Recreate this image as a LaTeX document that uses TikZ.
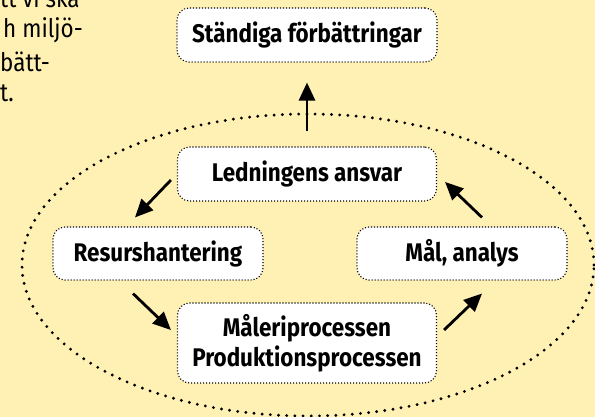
\documentclass[tikz,border=0pt]{standalone}
\usepackage{fontspec}
\setmainfont{Fira Sans}[FakeStretch=0.88]
\usepackage{tikz}
\usetikzlibrary{calc,arrows.meta}

\definecolor{cream}{RGB}{255,240,180}

\begin{document}
\begin{tikzpicture}[x=1pt,y=-1pt,
	box/.style={draw, dash pattern=on 1.1pt off 1.9pt, line width=1.1pt, rounded corners=12pt, fill=white, inner sep=0pt, align=center, font=\bfseries\fontsize{25.5}{30}\selectfont},
	arr/.style={line width=2.8pt, -{Triangle[length=18pt,width=16pt]}},
	txt/.style={anchor=base west, inner sep=0pt, font=\fontsize{25.5}{30}\selectfont}]
	
	\useasboundingbox (0,0) rectangle (595,417);
	\fill[cream] (0,0) rectangle (595,417);
	\clip (0,0) rectangle (595,417);
	
	% cut text at the top left
	\node[txt] (t1) at (0,8) {tt vi ska};
	
	\node[txt] (t2) at (3,38) {h miljö-};
	
	\node[txt] (t3) at (0,72) {bätt-};
	
	\node[txt] (t4) at (0,102) {t.};
	
	% the loop
	\draw[line width=3.2pt, dash pattern=on 0pt off 8.2pt, line cap=round] (308,265) ellipse [x radius=286pt, y radius=151pt];
	
	\node[box, minimum width=260pt, minimum height=54pt] (top) at (307,35) {Ständiga förbättringar};
	
	\node[box, minimum width=259pt, minimum height=54pt] (led) at (307,174) {Ledningens ansvar};
	
	\node[box, minimum width=210pt, minimum height=53pt] (res) at (158,253.5) {Resurshantering};
	
	\node[box, minimum width=210pt, minimum height=53pt] (mal) at (462,253.5) {Mål, analys};
	
	\node[box, minimum width=259pt, minimum height=80pt] (prod) at (307,343) {Måleriprocessen\\Produktionsprocessen};
	
	\draw[arr, shorten <=15pt, shorten >=20pt] (led.north) -- (top.south);
	\draw[arr] ($(led.west)+(-6,6)$) -- ($(res.north)+(-23,-9)$);
	\draw[arr] ($(res.south)+(-25,13)$) -- ($(prod.west)+(-6,-13)$);
	\draw[arr] ($(prod.east)+(7,-13)$) -- ($(mal.south)+(20,13)$);
	\draw[arr] ($(mal.north)+(20,-9)$) -- ($(led.east)+(8,8)$);
	
\end{tikzpicture}
\end{document}
